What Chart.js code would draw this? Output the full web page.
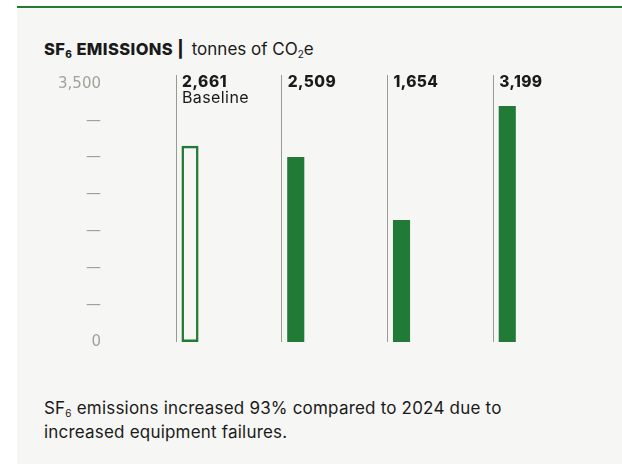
<!DOCTYPE html>
<html lang="en">
<head>
<meta charset="UTF-8">
<title>SF6 emissions</title>
<style>
  body {
    margin: 0;
    background: #fff;
    font-family: Inter, "Open Sans", sans-serif;
    color: #1a1a1a;
  }
  .panel {
    position: absolute;
    left: 17px;
    top: 8px;
    width: 605px;
    height: 456px;
    background: #f6f6f4;
  }
  .rule {
    position: absolute;
    left: 17px;
    top: 6px;
    width: 605px;
    height: 2px;
    background: #217a35;
  }
  .title {
    position: absolute;
    left: 44px;
    top: 39px;
    font-size: 17px;
    line-height: 20px;
    white-space: nowrap;
  }
  .title b { font-weight: 800; letter-spacing: 0.4px; font-size: 16.5px; margin-right: 3px; }
  .sub { font-size: 10px; vertical-align: -3px; line-height: 0; }
  .chart-box {
    position: absolute;
    left: 17px;
    top: 60px;
    width: 605px;
    height: 300px;
  }
  .caption {
    position: absolute;
    left: 44px;
    top: 396px;
    width: 560px;
    font-size: 17px;
    line-height: 24px;
    letter-spacing: 0.2px;
  }
</style>
<script src="https://cdn.jsdelivr.net/npm/chart.js"></script>
</head>
<body>
  <div class="rule"></div>
  <div class="panel"></div>
  <div class="title"><b>SF<span class="sub">6</span> EMISSIONS |</b> tonnes of CO<span class="sub">2</span>e</div>
  <div class="chart-box"><canvas id="sf6Chart"></canvas></div>
  <div class="caption">SF<span class="sub">6</span> emissions increased 93% compared to 2024 due to<br>increased equipment failures.</div>

  <script>
    const years = ['Baseline year', 'Year 2', 'Year 3', 'Year 4'];
    const emissions = [2661, 2509, 1654, 3199];
    const notes = ['Baseline', '', '', ''];
    const yTicks = [0, 500, 1000, 1500, 2000, 2500, 3000, 3500];

    const green = '#217a35';
    const empty = [null, null, null, null];

    // value labels + notes at top of each column
    const columnLabels = {
      id: 'columnLabels',
      afterDatasetsDraw(chart) {
        const ctx = chart.ctx;
        const x = chart.scales.x;
        const top = chart.chartArea.top;
        const half = (x.getPixelForValue(1) - x.getPixelForValue(0)) / 2;
        ctx.save();
        ctx.textAlign = 'left';
        ctx.textBaseline = 'top';
        ctx.fillStyle = '#1a1a1a';
        ctx.letterSpacing = '0.6px';
        emissions.forEach((v, i) => {
          const left = x.getPixelForValue(i) - half + 6;
          ctx.font = '800 15.5px Inter, sans-serif';
          ctx.fillText(v.toLocaleString('en-US'), left, top);
          if (notes[i]) {
            ctx.letterSpacing = '0.4px';
            ctx.font = '400 16px Inter, sans-serif';
            ctx.fillText(notes[i], left, top + 15);
          }
        });
        ctx.restore();
      }
    };

    const ctx = document.getElementById('sf6Chart').getContext('2d');
    new Chart(ctx, {
      type: 'bar',
      data: {
        labels: years,
        datasets: [
          {
            label: 'SF6 emissions',
            data: emissions,
            backgroundColor: emissions.map((v, i) => i === 0 ? 'rgba(0,0,0,0)' : green),
            borderColor: green,
            borderWidth: emissions.map((v, i) => i === 0 ? 2.5 : 0),
            borderSkipped: false
          },
          // spacers so the bar sits at the left of each column
          { data: empty },
          { data: empty },
          { data: empty }
        ]
      },
      options: {
        responsive: true,
        maintainAspectRatio: false,
        animation: false,
        categoryPercentage: 0.98,
        barPercentage: 0.66,
        layout: { padding: { top: 15, bottom: 18, right: 23 } },
        plugins: {
          legend: { display: false },
          tooltip: { enabled: false }
        },
        scales: {
          x: {
            offset: true,
            border: { display: false },
            ticks: { display: false },
            grid: {
              offset: true,
              drawTicks: false,
              color: c => c.index < 4 ? '#9a9a92' : 'rgba(0,0,0,0)',
              lineWidth: 1
            }
          },
          y: {
            min: 0,
            max: 3620,
            afterBuildTicks: s => { s.ticks = yTicks.map(v => ({ value: v })); },
            afterFit: s => { s.width = 159; s.paddingTop = 0; s.paddingBottom = 0; },
            border: { display: false },
            grid: { display: false, drawTicks: false },
            ticks: {
              padding: 75,
              color: '#a2a29b',
              font: { family: 'DejaVu Sans', size: 15, weight: 400 },
              callback: v => (v === 0 || v === 3500) ? v.toLocaleString('en-US') : '—'
            }
          }
        }
      },
      plugins: [columnLabels]
    });
  </script>
</body>
</html>
